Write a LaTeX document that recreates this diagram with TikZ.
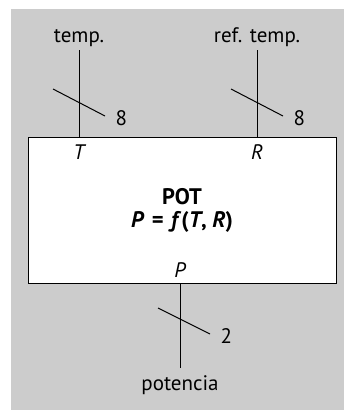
\documentclass[tikz,border=0pt]{standalone}
\usepackage{fontspec}
\setmainfont{PT Sans}
\usetikzlibrary{positioning, calc}
\definecolor{fondo}{HTML}{CCCCCC}

\begin{document}
\begin{tikzpicture}[x=1pt, y=-1pt, line width=1pt,
    every node/.style={font=\fontsize{21}{23}\selectfont, inner sep=1pt},
    bloque/.style={draw, fill=white, minimum width=308pt, minimum height=146pt, align=center,
        font=\fontsize{22.5}{23}\selectfont},
    puerto/.style={font=\fontsize{21}{23}\selectfont\itshape},
    raya/.style={line width=1pt}]
    \useasboundingbox (0,0) rectangle (344,410);
    \fill[fondo] (11,9) rectangle (344,410);
    % bloque
    \node[bloque] (pot) at (182,210) {\textbf{POT}\\\textbf{\textit{P}\,\,=\,\,\textit{f}(\textit{T}, \textit{R})}};
    \coordinate (tin) at (79,137);
    \coordinate (rin) at (257,137);
    \coordinate (pout) at (180,283);
    \coordinate (ttop) at (79,50);
    \coordinate (rtop) at (257,50);
    \coordinate (pbot) at (180,368);
    \node[puerto, below=6pt of tin] (T) {T};
    \node[puerto, below=6pt of rin] (R) {R};
    \node[puerto, above=4pt of pout] (P) {P};
    \node[above=2pt of ttop] (temp) {temp.};
    \node[above=2pt of rtop] (reftemp) {ref. temp.};
    \node[below=6pt of pbot] (potencia) {potencia};
    \draw (ttop) -- (tin);
    \draw (rtop) -- (rin);
    \draw (pout) -- (pbot);
    % buses
    \draw[raya] ($(tin)+(-26,-48)$) -- ++(52,27) node[right=9pt, yshift=-2pt] (nt) {8};
    \draw[raya] ($(rin)+(-26,-48)$) -- ++(52,27) node[right=9pt, yshift=-2pt] (nr) {8};
    \draw[raya] ($(pout)+(-22,25)$) -- ++(52,26) node[right=9pt, yshift=-2pt] (np) {2};
\end{tikzpicture}
\end{document}
